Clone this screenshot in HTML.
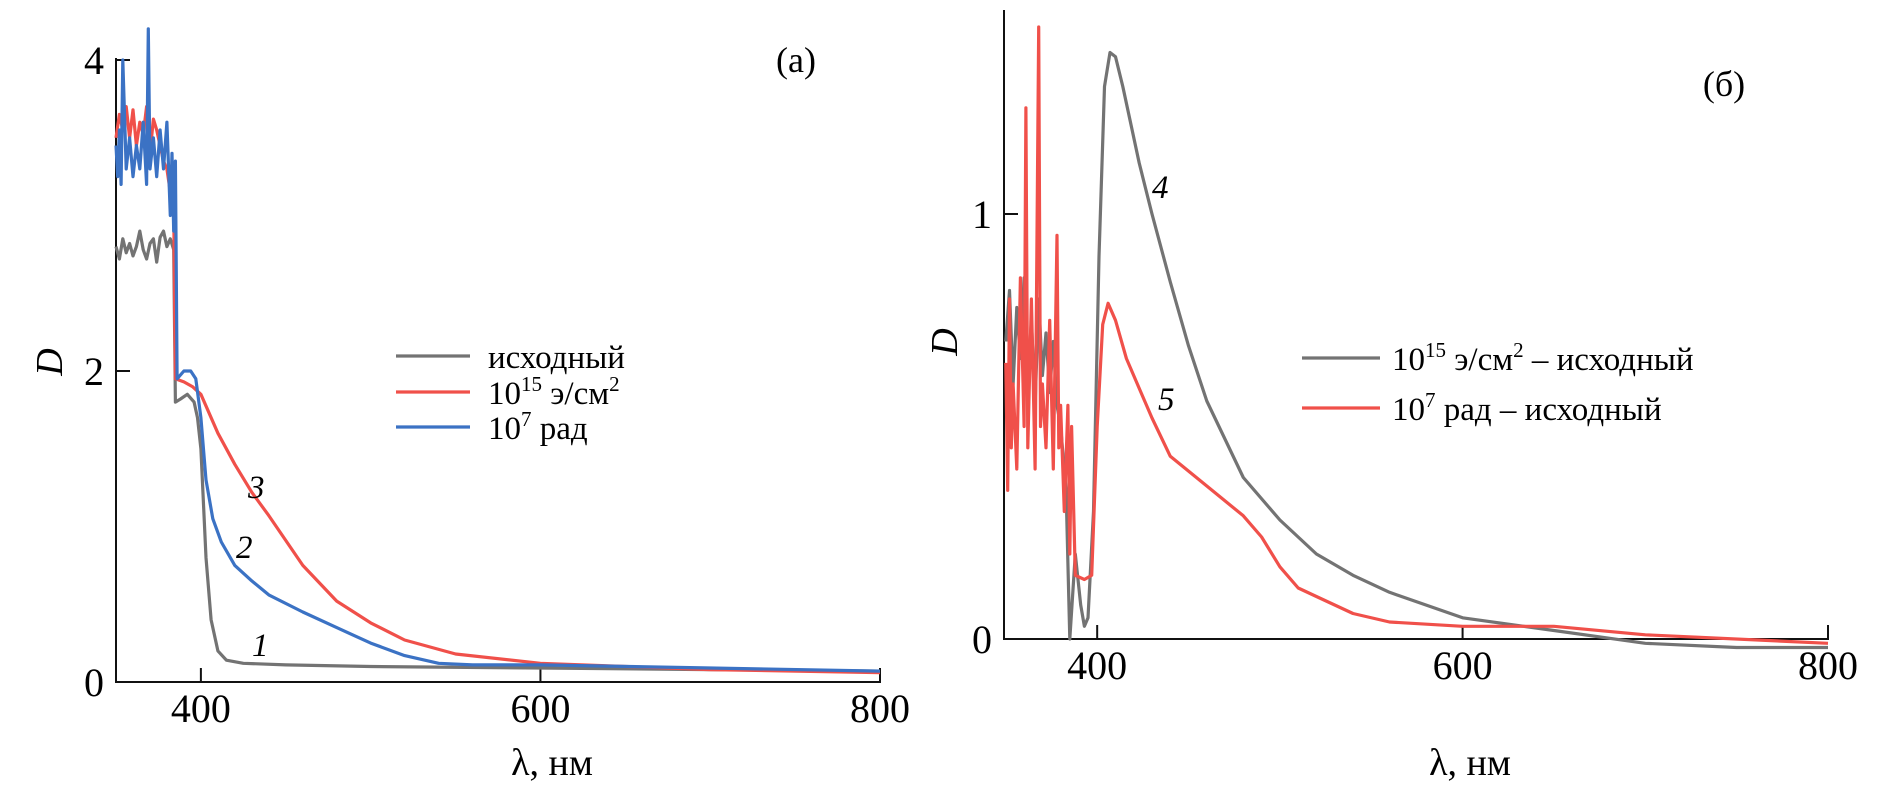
<!DOCTYPE html>
<html><head><meta charset="utf-8">
<style>
body{margin:0;background:#fff;}
svg{display:block;font-family:"Liberation Serif",serif;}
</style></head>
<body>
<svg id="fig" width="1882" height="803" viewBox="0 0 1882 803">
<g id="pa"></g>
<g id="pb"></g>
</svg>
<script>
// Panel (a) data
const aGrayX=[350,352,354,356,358,360,362,364,366,368,370,372,374,376,378,380,382,384,385,388,392,396,398,400,403,406,410,415,425,450,500,600,700,800];
const aGrayY=[2.8,2.72,2.85,2.76,2.82,2.74,2.8,2.9,2.78,2.72,2.82,2.85,2.7,2.86,2.9,2.8,2.85,2.78,1.8,1.82,1.85,1.8,1.7,1.5,0.8,0.4,0.2,0.14,0.12,0.11,0.1,0.09,0.08,0.07];
const aRedX=[350,352,354,356,358,360,362,364,366,368,370,372,374,376,378,380,382,384,385,390,395,400,410,420,430,440,460,480,500,520,550,600,700,800];
const aRedY=[3.5,3.65,3.55,3.7,3.5,3.68,3.45,3.6,3.52,3.7,3.4,3.62,3.55,3.45,3.35,3.3,3.15,3.05,1.95,1.93,1.9,1.85,1.6,1.4,1.22,1.07,0.75,0.52,0.38,0.27,0.18,0.12,0.08,0.06];
const aBlueX=[350,351,352,353,354,356,358,360,362,364,366,368,369,370,372,374,376,378,380,382,383,384,385,386,390,394,397,400,403,407,412,420,430,440,460,480,500,520,540,560,600,700,800];
const aBlueY=[3.45,3.25,3.55,3.2,4.0,3.3,3.5,3.25,3.45,3.3,3.6,3.2,4.2,3.3,3.5,3.25,3.55,3.3,3.6,3.0,3.4,2.9,3.35,1.95,2.0,2.0,1.95,1.7,1.3,1.05,0.9,0.75,0.65,0.56,0.45,0.35,0.25,0.17,0.12,0.11,0.11,0.09,0.07];
// Panel (б) data
const bGrayX=[350,352,354,356,358,360,362,364,366,368,370,372,374,376,378,380,383,385,388,391,393,395,398,401,404,407,410,414,418,423,430,440,450,460,480,500,520,540,560,600,650,700,750,800];
const bGrayY=[0.7,0.82,0.6,0.78,0.66,0.85,0.6,0.75,0.55,0.8,0.62,0.72,0.58,0.7,0.55,0.5,0.35,0.0,0.2,0.08,0.03,0.05,0.3,0.9,1.3,1.38,1.37,1.3,1.22,1.12,1.0,0.84,0.69,0.56,0.38,0.28,0.2,0.15,0.11,0.05,0.02,-0.01,-0.02,-0.02];
const bRedX=[350,351,352,353,354,356,358,360,361,362,364,366,368,369,370,372,374,376,378,379,380,382,384,385,386,388,393,397,400,403,406,410,416,424,430,440,460,480,490,500,510,520,540,560,600,650,700,800];
const bRedY=[0.65,0.35,0.8,0.45,0.6,0.4,0.85,0.5,1.25,0.45,0.8,0.4,1.44,0.5,0.6,0.45,0.75,0.4,0.95,0.45,0.55,0.3,0.55,0.2,0.5,0.15,0.14,0.15,0.5,0.74,0.79,0.75,0.66,0.58,0.52,0.43,0.36,0.29,0.24,0.17,0.12,0.1,0.06,0.04,0.03,0.03,0.01,-0.01];
const aXTicks=[400,600,800], aYTicks=[0,2,4];
const bXTicks=[400,600,800], bYTicks=[0,1];

const NS="http://www.w3.org/2000/svg";
function mk(parent,tag,attrs,text){const e=document.createElementNS(NS,tag);for(const k in attrs)e.setAttribute(k,attrs[k]);if(text!==undefined)e.textContent=text;parent.appendChild(e);return e;}
const GRAY="#737373",RED="#f0504a",BLUE="#3b72c4";

function panel(g,cfg){
  const sx=v=>cfg.x0+(v-cfg.xmin)*(cfg.x1-cfg.x0)/(cfg.xmax-cfg.xmin);
  const sy=v=>cfg.y0-(v-cfg.ymin)*(cfg.y0-cfg.y1)/(cfg.ymax-cfg.ymin);
  let ax=mk(g,'path',{d:`M${cfg.x0},${cfg.top}V${cfg.y0}H${cfg.x1}V${cfg.y0-12}`,fill:'none',stroke:'#111','stroke-width':2});
  
  cfg.xt.forEach(t=>{
    let l=mk(g,'line',{x1:sx(t),x2:sx(t),y1:cfg.y0,y2:cfg.y0-14,stroke:'#111','stroke-width':2});
    
    let tx=mk(g,'text',{x:sx(t),y:cfg.y0+40,'font-size':40,'text-anchor':'middle'},String(t));
    
  });
  cfg.yt.forEach(t=>{
    let l=mk(g,'line',{x1:cfg.x0,x2:cfg.x0+14,y1:sy(t),y2:sy(t),stroke:'#111','stroke-width':2});
    
    let tx=mk(g,'text',{x:cfg.x0-12,y:sy(t)+14,'font-size':40,'text-anchor':'end'},String(t));
    
  });
  cfg.series.forEach(s=>{
    const d=s.x.map((v,i)=>(i?'L':'M')+sx(v).toFixed(1)+','+sy(s.y[i]).toFixed(1)).join('');
    let p=mk(g,'path',{d,fill:'none',stroke:s.c,'stroke-width':3.2,'stroke-linejoin':'round'});
    
  });
  let xl=mk(g,'text',{x:cfg.xlab,y:775,'font-size':38,'text-anchor':'middle'},'λ, нм');
  
  let yl=mk(g,'text',{x:cfg.ylx,y:cfg.yly,'font-size':38,'font-style':'italic','text-anchor':'middle',transform:`rotate(-90 ${cfg.ylx} ${cfg.yly})`},'D');
  
}
panel(document.getElementById('pa'),{x0:116,x1:880,xmin:350,xmax:800,y0:682,y1:60,ymin:0,ymax:4,top:58,xt:aXTicks,yt:aYTicks,xlab:552,ylx:62,yly:362,
  series:[{x:aGrayX,y:aGrayY,c:GRAY,name:'curve-1-initial'},{x:aRedX,y:aRedY,c:RED,name:'curve-3-electron'},{x:aBlueX,y:aBlueY,c:BLUE,name:'curve-2-gamma'}]});
panel(document.getElementById('pb'),{x0:1004,x1:1828,xmin:349,xmax:800,y0:639,y1:214,ymin:0,ymax:1,top:10,xt:bXTicks,yt:bYTicks,xlab:1470,ylx:957,yly:342,
  series:[{x:bGrayX,y:bGrayY,c:GRAY,name:'curve-4-electron-diff'},{x:bRedX,y:bRedY,c:RED,name:'curve-5-gamma-diff'}]});
</script>
<svg width="1882" height="803" style="position:absolute;left:0;top:0">
<g font-family="Liberation Serif, serif" font-size="33">
<text x="796" y="72" font-size="36" text-anchor="middle">(a)</text>
<text x="1724" y="96" font-size="36" text-anchor="middle">(б)</text>
<text x="248" y="498" font-style="italic">3</text>
<text x="236" y="558" font-style="italic">2</text>
<text x="252" y="656" font-style="italic">1</text>
<text x="1152" y="198" font-style="italic">4</text>
<text x="1158" y="410" font-style="italic">5</text>
<g>
<line x1="396" x2="470" y1="356" y2="356" stroke="#737373" stroke-width="3.2"/>
<text x="488" y="368">исходный</text>
<line x1="396" x2="470" y1="392" y2="392" stroke="#f0504a" stroke-width="3.2"/>
<text x="488" y="404">10<tspan font-size="21" dy="-13">15</tspan><tspan dy="13"> э/см</tspan><tspan font-size="21" dy="-13">2</tspan></text>
<line x1="396" x2="470" y1="427" y2="427" stroke="#3b72c4" stroke-width="3.2"/>
<text x="488" y="439">10<tspan font-size="21" dy="-13">7</tspan><tspan dy="13"> рад</tspan></text>
</g>
<g>
<line x1="1302" x2="1380" y1="358" y2="358" stroke="#737373" stroke-width="3.2"/>
<text x="1392" y="370">10<tspan font-size="21" dy="-13">15</tspan><tspan dy="13"> э/см</tspan><tspan font-size="21" dy="-13">2</tspan><tspan dy="13"> – исходный</tspan></text>
<line x1="1302" x2="1380" y1="408" y2="408" stroke="#f0504a" stroke-width="3.2"/>
<text x="1392" y="420">10<tspan font-size="21" dy="-13">7</tspan><tspan dy="13"> рад  –  исходный</tspan></text>
</g>
</g>
</svg>
</body></html>
